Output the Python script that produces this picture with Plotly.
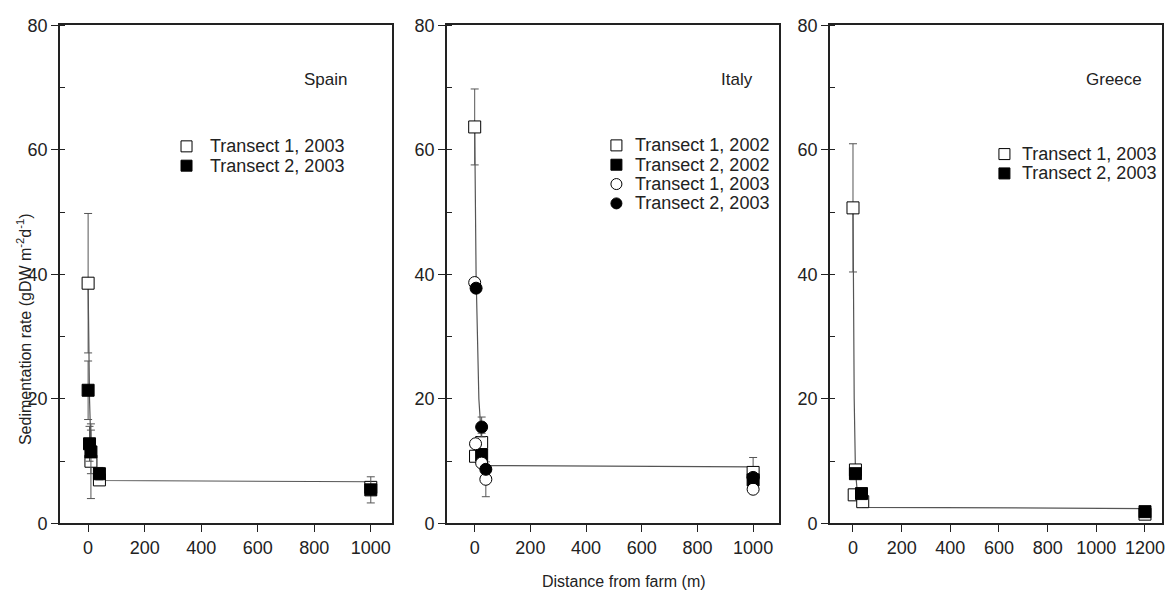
import plotly.graph_objects as go

W, H = 1173, 606
FONT = "Liberation Sans, Arial, sans-serif"

# ---------------- data ----------------
# Spain
spain_t1_x = [0, 10, 40, 1000]
spain_t1_y = [38.6, 10.0, 7.0, 5.8]
spain_t1_e = [11.2, 6.0, 0.8, 0.0]
spain_t2_x = [0, 5, 10, 40, 1000]
spain_t2_y = [21.4, 12.8, 11.5, 8.0, 5.4]
spain_t2_e = [4.7, 2.8, 3.5, 1.0, 2.1]
spain_fit_x = [0, 5, 10, 20, 40, 1000]
spain_fit_y = [38.6, 20.0, 12.0, 9.0, 6.9, 6.7]

# Italy
italy_t1_02_x = [0, 3, 25, 1000]
italy_t1_02_y = [63.7, 10.8, 13.0, 8.2]
italy_t1_02_e = [6.1, 0.0, 1.5, 2.4]
italy_t2_02_x = [25, 1000]
italy_t2_02_y = [11.0, 7.0]
italy_t2_02_e = [0.0, 0.0]
italy_t1_03_x = [0, 3, 25, 40, 1000]
italy_t1_03_y = [38.7, 12.8, 9.7, 7.1, 5.5]
italy_t1_03_e = [0.0, 0.0, 0.0, 2.8, 0.0]
italy_t2_03_x = [5, 25, 40, 1000]
italy_t2_03_y = [37.8, 15.5, 8.7, 7.4]
italy_t2_03_e = [0.0, 1.6, 0.0, 0.0]
italy_fit_x = [0, 5, 15, 25, 40, 1000]
italy_fit_y = [63.7, 40.0, 20.0, 13.0, 9.3, 9.1]

# Greece
greece_t1_x = [0, 5, 10, 40, 1200]
greece_t1_y = [50.7, 4.6, 8.6, 3.5, 1.5]
greece_t1_e = [10.3, 0.0, 0.0, 0.0, 0.0]
greece_t2_x = [10, 35, 1200]
greece_t2_y = [8.0, 4.8, 1.9]
greece_t2_e = [0.0, 0.0, 0.0]
greece_fit_x = [0, 5, 10, 20, 40, 1200]
greece_fit_y = [50.7, 20.0, 8.5, 4.0, 2.6, 2.4]

panel_names = ["Spain", "Italy", "Greece"]
x_ranges = [[-100, 1075], [-100, 1093], [-95, 1270]]
x_tickvals = [[0, 200, 400, 600, 800, 1000],
              [0, 200, 400, 600, 800, 1000],
              [0, 200, 400, 600, 800, 1000, 1200]]
y_tickvals = [0, 20, 40, 60, 80]

# ---------------- figure ----------------
fig = go.Figure()

def px_x(p):
    return p / W

def px_y(p):
    return 1 - p / H

domains = [(60, 393), (448, 781), (832, 1165)]
ytop, ybot = 16, 531

def add_fit(x, y, ax):
    fig.add_trace(go.Scatter(x=x, y=y, mode="lines",
                             line=dict(color="#555555", width=1.2),
                             showlegend=False, hoverinfo="skip",
                             xaxis="x" + ax, yaxis="y" + ax))

def add_pts(x, y, e, symbol, filled, name, ax):
    fig.add_trace(go.Scatter(
        x=x, y=y, mode="markers", name=name, showlegend=False,
        marker=dict(symbol=symbol, size=12,
                    color="black" if filled else "white",
                    line=dict(color="black", width=1)),
        error_y=dict(type="data", array=[v if v > 0 else None for v in e],
                     visible=True, color="#555555", thickness=1, width=4),
        xaxis="x" + ax, yaxis="y" + ax))

# Spain
add_fit(spain_fit_x, spain_fit_y, "")
add_pts(spain_t1_x, spain_t1_y, spain_t1_e, "square", False, "Transect 1, 2003", "")
add_pts(spain_t2_x, spain_t2_y, spain_t2_e, "square", True, "Transect 2, 2003", "")
# Italy
add_fit(italy_fit_x, italy_fit_y, "2")
add_pts(italy_t1_02_x, italy_t1_02_y, italy_t1_02_e, "square", False, "Transect 1, 2002", "2")
add_pts(italy_t2_02_x, italy_t2_02_y, italy_t2_02_e, "square", True, "Transect 2, 2002", "2")
add_pts(italy_t1_03_x, italy_t1_03_y, italy_t1_03_e, "circle", False, "Transect 1, 2003", "2")
add_pts(italy_t2_03_x, italy_t2_03_y, italy_t2_03_e, "circle", True, "Transect 2, 2003", "2")
# Greece
add_fit(greece_fit_x, greece_fit_y, "3")
add_pts(greece_t1_x, greece_t1_y, greece_t1_e, "square", False, "Transect 1, 2003", "3")
add_pts(greece_t2_x, greece_t2_y, greece_t2_e, "square", True, "Transect 2, 2003", "3")

axis_common = dict(showgrid=False, zeroline=False, showline=True, mirror=True,
                   linecolor="#222222", linewidth=1.5,
                   tickfont=dict(family=FONT, size=18, color="#222222"),
                   ticks="outside", ticklen=7, tickwidth=1.2, tickcolor="#222222")

layout = dict(width=W, height=H, margin=dict(l=0, r=0, t=0, b=0),
              paper_bgcolor="white", plot_bgcolor="white",
              font=dict(family=FONT, size=17, color="#222222"),
              showlegend=False)

for i in range(3):
    sfx = "" if i == 0 else str(i + 1)
    d0, d1 = domains[i]
    layout["xaxis" + sfx] = dict(axis_common, domain=[px_x(d0), px_x(d1)],
                                 range=x_ranges[i], tickvals=x_tickvals[i],
                                 anchor="y" + sfx)
    layout["yaxis" + sfx] = dict(axis_common, domain=[px_y(ybot), px_y(ytop)],
                                 range=[0, 80], tickvals=y_tickvals,
                                 anchor="x" + sfx,
                                 minor=dict(dtick=10, ticks="inside", ticklen=5,
                                            tickwidth=1.2, tickcolor="#222222"))

fig.update_layout(**layout)

annotations = []
# panel labels
label_pos = [(350, 72), (757, 72), (1147, 72)]
for name, (lx, ly) in zip(panel_names, label_pos):
    annotations.append(dict(text=name, xref="paper", yref="paper",
                            x=px_x(lx), y=px_y(ly), xanchor="right", yanchor="middle",
                            showarrow=False, font=dict(family=FONT, size=17, color="#222222")))

# axis titles
annotations.append(dict(text="Sedimentation rate (gDW m<sup>-2</sup>d<sup>-1</sup>)",
                        xref="paper", yref="paper", x=px_x(24), y=px_y(330),
                        textangle=-90, showarrow=False, xanchor="center", yanchor="middle",
                        font=dict(family=FONT, size=16, color="#222222")))
annotations.append(dict(text="Distance from farm (m)", xref="paper", yref="paper",
                        x=px_x(626), y=px_y(591), showarrow=False,
                        xanchor="center", yanchor="middle",
                        font=dict(family=FONT, size=16, color="#222222")))

# manual legends
legends = [
    (187, 209, [141, 161], [("square", False, "Transect 1, 2003"), ("square", True, "Transect 2, 2003")]),
    (618, 635, [140, 160, 180, 200], [("square", False, "Transect 1, 2002"), ("square", True, "Transect 2, 2002"),
                                      ("circle", False, "Transect 1, 2003"), ("circle", True, "Transect 2, 2003")]),
    (1007, 1023, [149, 169], [("square", False, "Transect 1, 2003"), ("square", True, "Transect 2, 2003")]),
]
shapes = []
for mx, tx, rows, items in legends:
    for ry, (sym, filled, txt) in zip(rows, items):
        shapes.append(dict(type="rect" if sym == "square" else "circle",
                           xref="paper", yref="paper", xsizemode="pixel", ysizemode="pixel",
                           xanchor=px_x(mx), yanchor=px_y(ry),
                           x0=-5.5, x1=5.5, y0=-5.5, y1=5.5,
                           line=dict(color="black", width=1),
                           fillcolor="black" if filled else "white"))
        annotations.append(dict(text=txt, xref="paper", yref="paper",
                                x=px_x(tx), y=px_y(ry), xanchor="left", yanchor="middle",
                                showarrow=False, font=dict(family=FONT, size=18, color="#222222")))

fig.update_layout(annotations=annotations, shapes=shapes)
fig.write_html("out.html")
